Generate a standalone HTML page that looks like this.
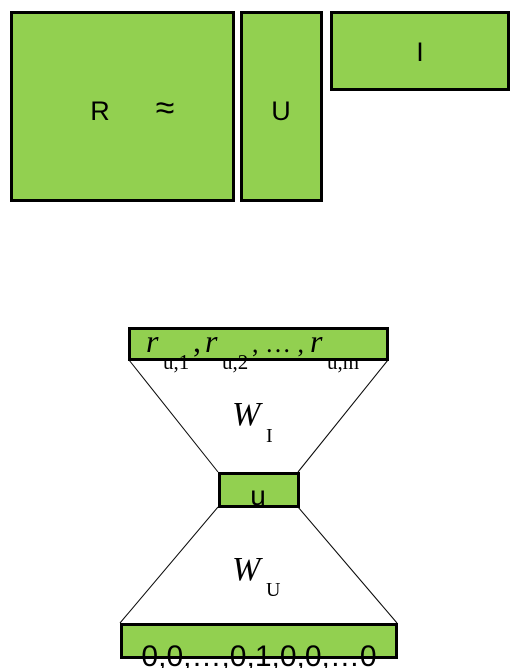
<!DOCTYPE html>
<html><head><meta charset="utf-8"><style>
html,body{margin:0;padding:0;background:#fff;width:518px;height:668px;overflow:hidden}
text{font-family:"Liberation Sans",sans-serif;fill:#000}
.s{font-family:"Liberation Serif",serif}
</style></head><body>
<svg width="518" height="668" viewBox="0 0 518 668">
<g>
<rect x="11.5" y="12.5" width="222" height="188" fill="#92d050" stroke="#000" stroke-width="3"/>
<text x="100" y="120" font-size="27" text-anchor="middle">R</text>
<text x="165" y="119" font-size="34" text-anchor="middle">≈</text>
<rect x="241.5" y="12.5" width="80" height="188" fill="#92d050" stroke="#000" stroke-width="3"/>
<text x="281" y="120" font-size="27" text-anchor="middle">U</text>
<rect x="331.5" y="12.5" width="177" height="77" fill="#92d050" stroke="#000" stroke-width="3"/>
<text x="420" y="61" font-size="27" text-anchor="middle">I</text>
</g>
<g>
<line x1="129" y1="360" x2="218" y2="472" stroke="#000" stroke-width="1"/>
<line x1="388" y1="360" x2="298" y2="472" stroke="#000" stroke-width="1"/>
<line x1="218" y1="507" x2="120" y2="623" stroke="#000" stroke-width="1"/>
<line x1="298" y1="507" x2="397" y2="623" stroke="#000" stroke-width="1"/>
<rect x="129.5" y="328.5" width="258" height="31" fill="#92d050" stroke="#000" stroke-width="3"/>
<text class="s" font-size="32" y="352"><tspan x="146" font-style="italic">r</tspan><tspan font-size="21" x="163" dy="17">u,1</tspan><tspan x="193" dy="-17">,</tspan><tspan x="205" font-style="italic">r</tspan><tspan font-size="21" x="222" dy="17">u,2</tspan><tspan x="252" dy="-17" font-size="26">, … ,</tspan><tspan x="310" font-style="italic">r</tspan><tspan font-size="21" x="327" dy="17">u,m</tspan></text>
<text class="s" font-size="34" x="232" y="425" font-style="italic">W</text>
<text class="s" font-size="20" x="266" y="442">I</text>
<rect x="219.5" y="473.5" width="79" height="33" fill="#92d050" stroke="#000" stroke-width="3"/>
<text x="258" y="505" font-size="28" text-anchor="middle">u</text>
<text class="s" font-size="34" x="232" y="580" font-style="italic">W</text>
<text class="s" font-size="20" x="266" y="596">U</text>
<rect x="121.5" y="624.5" width="275" height="33" fill="#92d050" stroke="#000" stroke-width="3"/>
<text x="259" y="666" font-size="30" text-anchor="middle">0,0,…,0,1,0,0,…0</text>
</g>
</svg>
</body></html>
